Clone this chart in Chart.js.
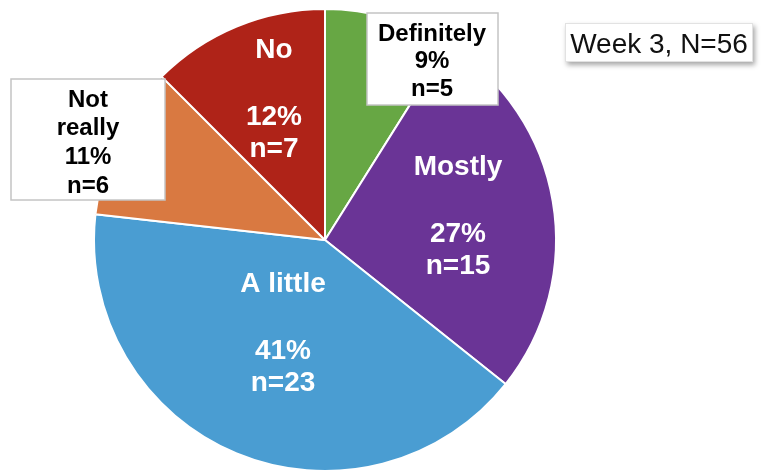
<!DOCTYPE html>
<html>
<head>
<meta charset="utf-8">
<script src="https://cdn.jsdelivr.net/npm/chart.js@4.4.0/dist/chart.umd.min.js"></script>
<style>
  html, body { margin: 0; padding: 0; background: #fff; }
  #wrap { position: relative; width: 762px; height: 472px; }
</style>
</head>
<body>
<div id="wrap"><canvas id="pie" width="762" height="472"></canvas></div>
<script>
// data
const categories = ['Definitely', 'Mostly', 'A little', 'Not really', 'No'];
const counts = [5, 15, 23, 6, 7];
const percents = ['9%', '27%', '41%', '11%', '12%'];
const sliceColors = ['#67A744', '#6A3496', '#4A9DD2', '#D97941', '#AF2318'];
const noteText = 'Week 3, N=56';

const FONT = '"Liberation Sans", Arial, sans-serif';

// label placement, offsets from the pie centre
const labelLayout = [
    { boxed: true, nameLines: ['Definitely'], dx: 107, dy: -208, step: 27.5, size: 24, box: [42, -227, 131, 92] },
    { boxed: false, dx: 133, dy: -75 },
    { boxed: false, dx: -42, dy: 42 },
    { boxed: true, nameLines: ['Not', 'really'], dx: -237, dy: -142, step: 28.7, size: 24, box: [-314, -161, 154, 121] },
    { boxed: false, dx: -51, dy: -192 }
];

function textAt(ctx, txt, x, capMid, size, bold, color) {
    ctx.font = (bold ? 'bold ' : '') + size + 'px ' + FONT;
    ctx.fillStyle = color;
    ctx.textAlign = 'center';
    ctx.textBaseline = 'alphabetic';
    ctx.fillText(txt, x, capMid + 0.358 * size);
}

const labelPlugin = {
    id: 'sliceLabels',
    afterDraw(chart) {
        const ctx = chart.ctx;
        const arcs = chart.getDatasetMeta(0).data;
        const cx = arcs[0].x, cy = arcs[0].y;
        ctx.save();

        arcs.forEach((arc, i) => {
            const L = labelLayout[i];
            const x = cx + L.dx, y = cy + L.dy;
            if (L.boxed) {
                const [bx, by, bw, bh] = L.box;
                ctx.fillStyle = '#fff';
                ctx.fillRect(cx + bx, cy + by, bw, bh);
                ctx.strokeStyle = '#c4c4c4';
                ctx.lineWidth = 1.5;
                ctx.strokeRect(cx + bx, cy + by, bw, bh);
                const lines = [...L.nameLines, percents[i], 'n=' + counts[i]];
                lines.forEach((t, k) => textAt(ctx, t, x, y + k * L.step, L.size, true, '#000'));
            } else {
                textAt(ctx, categories[i], x, y, 28, true, '#fff');
                textAt(ctx, percents[i], x, y + 67, 28, true, '#fff');
                textAt(ctx, 'n=' + counts[i], x, y + 98.5, 28, true, '#fff');
            }
        });

        // note box top right
        ctx.save();
        ctx.shadowColor = 'rgba(0,0,0,0.35)';
        ctx.shadowBlur = 5;
        ctx.shadowOffsetX = 2;
        ctx.shadowOffsetY = 3;
        ctx.fillStyle = '#fff';
        ctx.fillRect(565, 23, 188, 39);
        ctx.restore();
        ctx.strokeStyle = '#e2e2e2';
        ctx.lineWidth = 1;
        ctx.strokeRect(565.5, 23.5, 187, 38);
        textAt(ctx, noteText, 659, 43, 28, false, '#111');

        ctx.restore();
    }
};

new Chart(document.getElementById('pie'), {
    type: 'pie',
    data: {
        labels: categories,
        datasets: [{
            data: counts,
            backgroundColor: sliceColors,
            borderColor: '#fff',
            borderWidth: 2
        }]
    },
    options: {
        responsive: false,
        animation: false,
        layout: { padding: { top: 8, bottom: 0, left: 0, right: 112 } },
        plugins: { legend: { display: false }, tooltip: { enabled: false } }
    },
    plugins: [labelPlugin]
});
</script>
</body>
</html>
